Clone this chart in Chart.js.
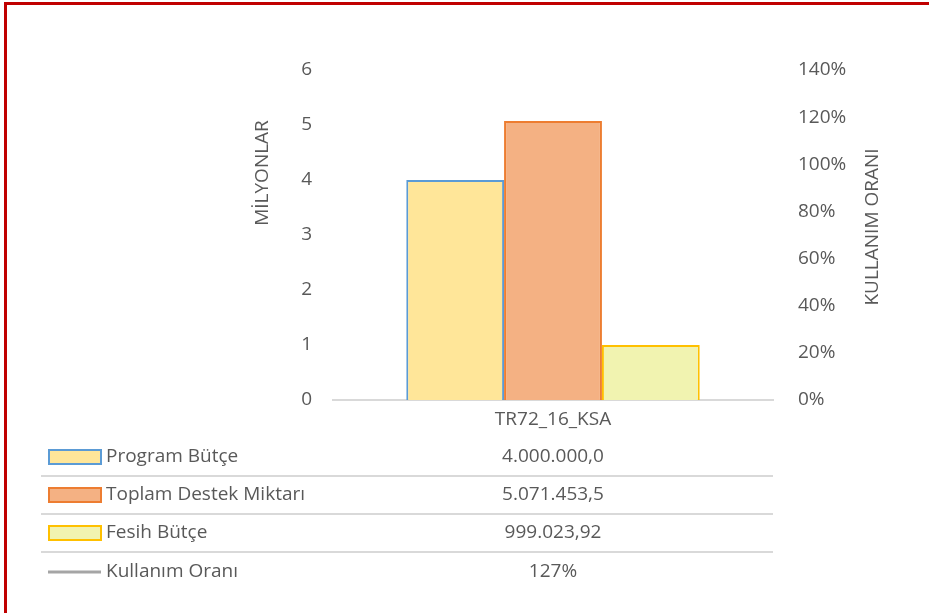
<!DOCTYPE html>
<html>
<head>
<meta charset="utf-8">
<script src="https://cdn.jsdelivr.net/npm/chart.js@4"></script>
<style>
  html, body { margin: 0; padding: 0; background: #fff; }
  #wrap { width: 929px; height: 613px; position: relative; }
</style>
</head>
<body>
<div id="wrap"><canvas id="butceChart" width="929" height="613"></canvas></div>
<script>
// Veriler
const kategoriler = ['TR72_16_KSA'];
const programButce = [4000000];
const toplamDestek = [5071453.5];
const fesihButce = [999023.92];
const kullanimOrani = [1.27];
const seriAdlari = ['Program Bütçe', 'Toplam Destek Miktarı', 'Fesih Bütçe', 'Kullanım Oranı'];
const tabloDegerleri = ['4.000.000,0', '5.071.453,5', '999.023,92', '127%'];
const solEksenBaslik = 'MİLYONLAR';
const sagEksenBaslik = 'KULLANIM ORANI';

const yaziRengi = '#595959';
const yaziFont = "'Open Sans', 'Noto Sans', sans-serif";
const yaziBoyu = 19;
const cizgiRengi = '#d9d9d9';

const anahtarlar = [
    { fill: '#FFE699', stroke: '#5B9BD5' },
    { fill: '#F4B183', stroke: '#ED7D31' },
    { fill: '#F1F3B0', stroke: '#FFC000' },
    { line: '#A5A5A5' }
];

// Tablo, eksen başlıkları ve çerçeve
const tabloPlugin = {
    id: 'tablo',
    afterDraw(chart) {
        const ctx = chart.ctx;
        const x = chart.scales.x;
        const area = chart.chartArea;
        const merkez = x.getPixelForValue(0);
        ctx.save();
        ctx.font = yaziBoyu + 'px ' + yaziFont;
        ctx.fillStyle = yaziRengi;
        ctx.textBaseline = 'middle';
        const satirY = [457, 495, 533, 572];
        seriAdlari.forEach((ad, i) => {
            const y = satirY[i];
            const k = anahtarlar[i];
            if (k.line) {
                ctx.strokeStyle = k.line;
                ctx.lineWidth = 3;
                ctx.beginPath();
                ctx.moveTo(48, y);
                ctx.lineTo(101, y);
                ctx.stroke();
            } else {
                ctx.fillStyle = k.fill;
                ctx.fillRect(49, y - 7, 52, 14);
                ctx.strokeStyle = k.stroke;
                ctx.lineWidth = 2;
                ctx.strokeRect(49, y - 7, 52, 14);
            }
            ctx.fillStyle = yaziRengi;
            ctx.textAlign = 'left';
            ctx.fillText(ad, 106, y);
            ctx.textAlign = 'center';
            ctx.fillText(tabloDegerleri[i], merkez, y);
            if (i < 3) {
                ctx.strokeStyle = cizgiRengi;
                ctx.lineWidth = 2;
                ctx.beginPath();
                ctx.moveTo(41, y + 19);
                ctx.lineTo(area.right, y + 19);
                ctx.stroke();
            }
        });

        // eksen başlıkları
        ctx.fillStyle = yaziRengi;
        ctx.textAlign = 'center';
        ctx.save();
        ctx.translate(263, 173);
        ctx.rotate(-Math.PI / 2);
        ctx.fillText(solEksenBaslik, 0, 0);
        ctx.restore();
        ctx.save();
        ctx.translate(873, 227);
        ctx.rotate(-Math.PI / 2);
        ctx.fillText(sagEksenBaslik, 0, 0);
        ctx.restore();

        // kırmızı çerçeve
        ctx.strokeStyle = '#C00000';
        ctx.lineWidth = 3;
        ctx.strokeRect(5.5, 3.5, 1000, 1000);
        ctx.restore();
    }
};

const butceChart = new Chart(document.getElementById('butceChart'), {
    type: 'bar',
    data: {
        labels: kategoriler,
        datasets: [{
            label: seriAdlari[0],
            data: programButce,
            backgroundColor: anahtarlar[0].fill,
            borderColor: anahtarlar[0].stroke,
            borderWidth: 2,
            yAxisID: 'y'
        }, {
            label: seriAdlari[1],
            data: toplamDestek,
            backgroundColor: anahtarlar[1].fill,
            borderColor: anahtarlar[1].stroke,
            borderWidth: 2,
            yAxisID: 'y'
        }, {
            label: seriAdlari[2],
            data: fesihButce,
            backgroundColor: anahtarlar[2].fill,
            borderColor: anahtarlar[2].stroke,
            borderWidth: 2,
            yAxisID: 'y'
        }, {
            type: 'line',
            label: seriAdlari[3],
            data: kullanimOrani,
            borderColor: anahtarlar[3].line,
            borderWidth: 3,
            pointRadius: 0,
            yAxisID: 'y1'
        }]
    },
    options: {
        responsive: false,
        animation: false,
        layout: { padding: { top: 70, left: 0, right: 0, bottom: 0 } },
        datasets: {
            bar: { barPercentage: 1.0, categoryPercentage: 0.667 }
        },
        plugins: {
            legend: { display: false },
            tooltip: { enabled: false }
        },
        scales: {
            x: {
                grid: { display: false, drawTicks: false },
                border: { display: true, color: cizgiRengi, width: 2 },
                ticks: { color: yaziRengi, font: { size: yaziBoyu, family: yaziFont }, padding: 8 },
                afterFit(scale) { scale.height = 213; }
            },
            y: {
                position: 'left',
                min: 0,
                max: 6000000,
                grid: { display: false, drawTicks: false },
                border: { display: false },
                ticks: {
                    stepSize: 1000000,
                    color: yaziRengi,
                    font: { size: yaziBoyu, family: yaziFont },
                    padding: 21,
                    callback: v => v / 1000000
                },
                afterFit(scale) { scale.width = 333; }
            },
            y1: {
                position: 'right',
                min: 0,
                max: 1.4,
                grid: { display: false, drawTicks: false },
                border: { display: false },
                ticks: {
                    stepSize: 0.2,
                    color: yaziRengi,
                    font: { size: yaziBoyu, family: yaziFont },
                    padding: 25,
                    callback: v => Math.round(v * 100) + '%'
                },
                afterFit(scale) { scale.width = 156; }
            }
        }
    },
    plugins: [tabloPlugin]
});
</script>
</body>
</html>
